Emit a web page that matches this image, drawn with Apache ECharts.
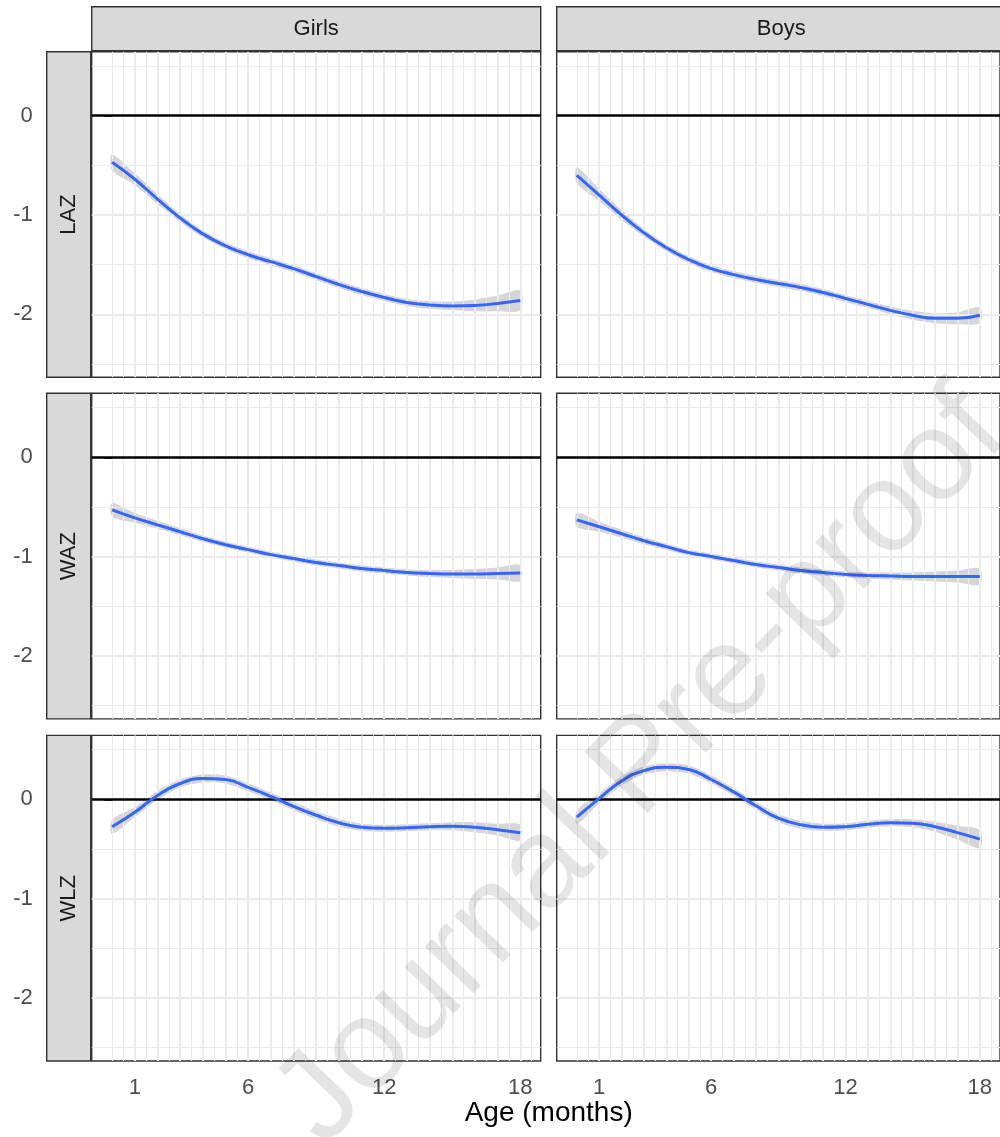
<!DOCTYPE html>
<html><head><meta charset="utf-8">
<script src="https://cdn.jsdelivr.net/npm/echarts@6/dist/echarts.min.js"></script>
<style>html,body{margin:0;padding:0;background:#fff}#c{width:1000px;height:1137px}</style>
</head><body><div id="c"></div>
<script>
// ---------- data ----------
const months = [0,1,2,3,4,5,6,7,8,9,10,11,12,13,14,15,16,17,18];
const colLabels = ['Girls','Boys'];
const rowLabels = ['LAZ','WAZ','WLZ'];

const girlsLAZ   = [-0.47,-0.64,-0.84,-1.03,-1.19,-1.31,-1.40,-1.47,-1.54,-1.62,-1.70,-1.77,-1.83,-1.88,-1.905,-1.915,-1.91,-1.89,-1.86];
const girlsLAZci = [0.08,0.06,0.05,0.04,0.035,0.035,0.035,0.035,0.035,0.035,0.035,0.035,0.035,0.035,0.04,0.045,0.06,0.08,0.10];
const boysLAZ    = [-0.60,-0.80,-1.00,-1.18,-1.33,-1.45,-1.54,-1.60,-1.65,-1.69,-1.73,-1.78,-1.84,-1.90,-1.96,-2.01,-2.04,-2.04,-2.01];
const boysLAZci  = [0.08,0.06,0.05,0.04,0.035,0.035,0.035,0.035,0.035,0.035,0.035,0.035,0.035,0.035,0.04,0.045,0.05,0.06,0.08];
const girlsWAZ   = [-0.53,-0.61,-0.68,-0.75,-0.82,-0.88,-0.93,-0.98,-1.02,-1.06,-1.09,-1.12,-1.14,-1.16,-1.17,-1.175,-1.175,-1.17,-1.165];
const girlsWAZci = [0.07,0.05,0.04,0.035,0.03,0.03,0.03,0.03,0.03,0.03,0.03,0.03,0.03,0.03,0.035,0.04,0.05,0.06,0.08];
const boysWAZ    = [-0.63,-0.70,-0.77,-0.84,-0.90,-0.96,-1.00,-1.04,-1.08,-1.11,-1.14,-1.16,-1.18,-1.19,-1.195,-1.20,-1.20,-1.20,-1.20];
const boysWAZci  = [0.07,0.05,0.04,0.035,0.03,0.03,0.03,0.03,0.03,0.03,0.03,0.03,0.03,0.03,0.035,0.04,0.05,0.06,0.08];
const girlsWLZ   = [-0.275,-0.13,0.04,0.16,0.21,0.20,0.12,0.03,-0.07,-0.16,-0.235,-0.28,-0.29,-0.285,-0.275,-0.27,-0.28,-0.305,-0.335];
const girlsWLZci = [0.07,0.05,0.045,0.04,0.04,0.04,0.04,0.04,0.04,0.04,0.04,0.035,0.035,0.035,0.035,0.04,0.05,0.06,0.08];
const boysWLZ    = [-0.18,0.01,0.185,0.29,0.323,0.30,0.20,0.075,-0.065,-0.19,-0.255,-0.28,-0.275,-0.25,-0.235,-0.24,-0.275,-0.335,-0.40];
const boysWLZci  = [0.07,0.05,0.045,0.04,0.04,0.04,0.04,0.04,0.04,0.04,0.04,0.035,0.035,0.035,0.035,0.04,0.05,0.07,0.09];

const panelFits = [[girlsLAZ,boysLAZ],[girlsWAZ,boysWAZ],[girlsWLZ,boysWLZ]];
const panelCis  = [[girlsLAZci,boysLAZci],[girlsWAZci,boysWAZci],[girlsWLZci,boysWLZci]];

const xTickValues  = [1,2,3,4,5,6,7,8,9,10,11,12,13,14,15,16,17,18];
const xLabelValues = [1,6,12,18];
const yTickValues  = [0,-1,-2];
const xMajorGrid = [1,2,3,4,5,6,7,8,9,10,11,12,13,14,15,16,17,18];
const xMinorGrid = [0,0.5,1.5,2.5,3.5,4.5,5.5,6.5,7.5,8.5,9.5,10.5,11.5,12.5,13.5,14.5,15.5,16.5,17.5,18.5];
const yMajorGrid = [-2,-1];
const yMinorGrid = [-2.5,-1.5,-0.5,0.5];
const refLine = 0;

// ---------- layout ----------
const FONT = 'Liberation Sans, Arial, Helvetica, sans-serif';
const colLeft = [91.7, 556.7];
const rowTop = [51.7, 393.3, 735.4];
const PW = 449, PH = 325.6;
const XMIN = -0.9, XMAX = 18.9, YMIN = -2.634, YMAX = 0.644;
const STRIP = 44;

const grids = [], xAxes = [], yAxes = [], series = [], graphics = [];
for (let r = 0; r < 3; r++) {
  for (let c = 0; c < 2; c++) {
    const p = r * 2 + c;
    grids.push({left: colLeft[c], top: rowTop[r], width: PW, height: PH, show: true,
      borderColor: '#333333', borderWidth: 1.4, backgroundColor: '#fff', containLabel: false});
    const bottom = r === 2;
    xAxes.push({type: 'value', gridIndex: p, min: XMIN, max: XMAX, show: bottom,
      axisLine: {show: false}, splitLine: {show: false},
      axisTick: {show: true, length: 8, customValues: xTickValues, lineStyle: {color: '#333333', width: 2}},
      axisLabel: {show: true, customValues: xLabelValues, margin: 16, color: '#4D4D4D', fontSize: 22, fontFamily: FONT}
    });
    const left = c === 0;
    yAxes.push({type: 'value', gridIndex: p, min: YMIN, max: YMAX, show: left, offset: STRIP + 1,
      axisLine: {show: false}, splitLine: {show: false},
      axisTick: {show: true, length: 7.7, customValues: yTickValues, lineStyle: {color: '#333333', width: 2}},
      axisLabel: {show: true, customValues: yTickValues, margin: 14, color: '#4D4D4D', fontSize: 22, fontFamily: FONT}
    });
    const gl = [];
    xMinorGrid.forEach(v => gl.push({xAxis: v, lineStyle: {color: '#EBEBEB', width: 1, type: 'solid'}}));
    xMajorGrid.forEach(v => gl.push({xAxis: v, lineStyle: {color: '#EBEBEB', width: 2, type: 'solid'}}));
    yMinorGrid.forEach(v => gl.push({yAxis: v, lineStyle: {color: '#EBEBEB', width: 1, type: 'solid'}}));
    yMajorGrid.forEach(v => gl.push({yAxis: v, lineStyle: {color: '#EBEBEB', width: 2, type: 'solid'}}));
    gl.push({yAxis: refLine, lineStyle: {color: '#000000', width: 2.6, type: 'solid'}});
    series.push({type: 'line', xAxisIndex: p, yAxisIndex: p, data: [], z: 1, silent: true,
      markLine: {silent: true, symbol: ['none','none'], label: {show: false}, animation: false, data: gl}});
    const fit = panelFits[r][c], ci = panelCis[r][c];
    // confidence ribbon: one polygon built from the fit +/- ci arrays via the axes
    series.push({type: 'custom', xAxisIndex: p, yAxisIndex: p, z: 3, silent: true, animation: false,
      data: months.map((m, i) => [m, fit[i] - ci[i], fit[i] + ci[i]]),
      encode: {x: 0, y: [1, 2]},
      renderItem: function (params, api) {
        if (params.dataIndex !== 0) return null;
        const up = months.map((m, i) => api.coord([m, fit[i] + ci[i]]));
        const lo = months.map((m, i) => api.coord([m, fit[i] - ci[i]])).reverse();
        return {type: 'polygon', shape: {points: up.concat(lo), smooth: 0.3},
          style: {fill: 'rgba(153,153,153,0.4)', stroke: 'none'}};
      }
    });
    series.push({type: 'line', xAxisIndex: p, yAxisIndex: p,
      data: months.map((m, i) => [m, fit[i]]), symbol: 'none', smooth: 0.5,
      lineStyle: {color: '#3366FF', width: 3}, z: 5, silent: true, animation: false});
  }
}
// column strips
for (let c = 0; c < 2; c++) {
  graphics.push({type: 'rect', shape: {x: colLeft[c], y: 6.7, width: PW, height: STRIP},
    style: {fill: '#D9D9D9', stroke: '#333333', lineWidth: 1.4}, z: 10});
  graphics.push({type: 'text', x: colLeft[c] + PW / 2, y: 6.7 + STRIP / 2,
    style: {text: colLabels[c], fill: '#1A1A1A', font: '22px ' + FONT, textAlign: 'center', textVerticalAlign: 'middle'}, z: 11});
}
// row strips
for (let r = 0; r < 3; r++) {
  graphics.push({type: 'rect', shape: {x: colLeft[0] - STRIP - 1, y: rowTop[r], width: STRIP, height: PH},
    style: {fill: '#D9D9D9', stroke: '#333333', lineWidth: 1.4}, z: 10});
  graphics.push({type: 'text', x: colLeft[0] - STRIP / 2 - 1, y: rowTop[r] + PH / 2, rotation: Math.PI / 2,
    style: {text: rowLabels[r], fill: '#1A1A1A', font: '22px ' + FONT, textAlign: 'center', textVerticalAlign: 'middle'}, z: 11});
}
// axis title
graphics.push({type: 'text', x: (colLeft[0] + colLeft[1] + PW) / 2, y: 1113,
  style: {text: 'Age (months)', fill: '#000000', font: '28px ' + FONT, textAlign: 'center', textVerticalAlign: 'middle'}, z: 11});
// watermark
graphics.push({type: 'text', x: 642, y: 768, rotation: 46 * Math.PI / 180,
  style: {text: 'Journal Pre-proof', fill: 'rgba(0,0,0,0.1)', font: '128px ' + FONT, textAlign: 'center', textVerticalAlign: 'middle'}, z: 100, silent: true});

const chart = echarts.init(document.getElementById('c'), null, {renderer: 'canvas'});
chart.setOption({animation: false, backgroundColor: '#ffffff', grid: grids, xAxis: xAxes, yAxis: yAxes, series: series, graphic: graphics});
</script></body></html>
